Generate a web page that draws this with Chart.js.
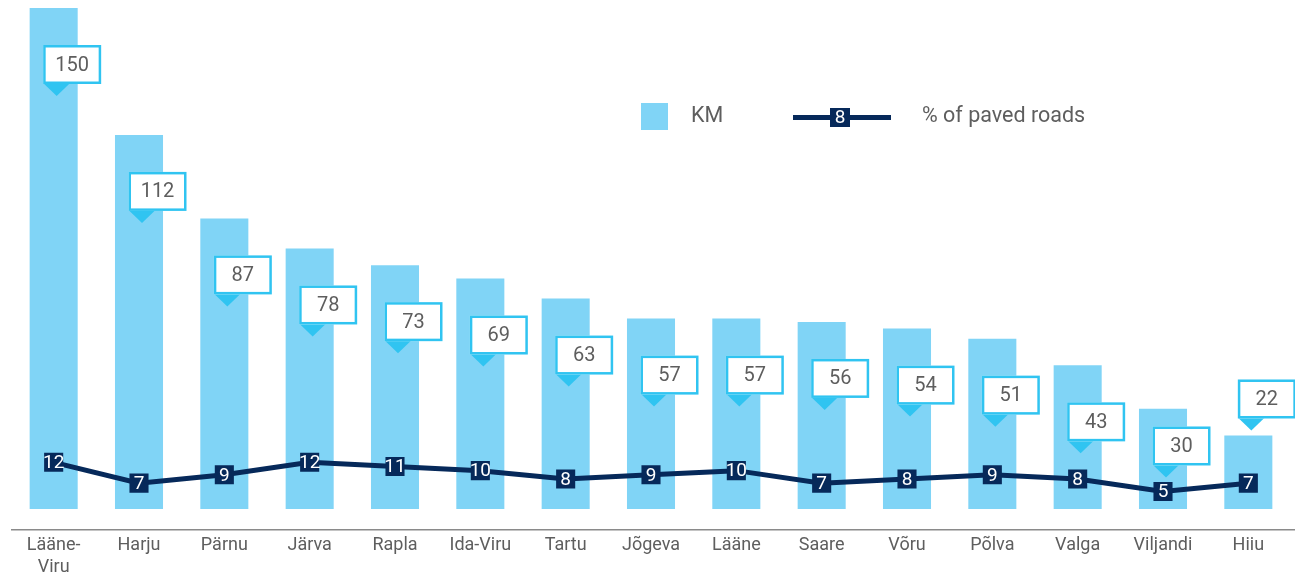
<!doctype html>
<html lang="et">
<head>
  <meta charset="utf-8" />
  <title>Roads by county</title>
  <script src="https://cdn.jsdelivr.net/npm/chart.js"></script>
  <style>
    html, body { margin: 0; padding: 0; background: #ffffff; }
    .wrap { position: relative; width: 1295px; height: 578px; }
  </style>
</head>
<body>
  <div class="wrap"><canvas id="roads"></canvas></div>
  <script>
    // county names and the two series
    const counties = ['Lääne-Viru', 'Harju', 'Pärnu', 'Järva', 'Rapla', 'Ida-Viru', 'Tartu', 'Jõgeva',
      'Lääne', 'Saare', 'Võru', 'Põlva', 'Valga', 'Viljandi', 'Hiiu'];
    const tickLabels = [['Lääne-', 'Viru'], 'Harju', 'Pärnu', 'Järva', 'Rapla', 'Ida-Viru', 'Tartu', 'Jõgeva',
      'Lääne', 'Saare', 'Võru', 'Põlva', 'Valga', 'Viljandi', 'Hiiu'];
    const kmValues = [150, 112, 87, 78, 73, 69, 63, 57, 57, 56, 54, 51, 43, 30, 22];
    const pavedShare = [12, 7, 9, 12, 11, 10, 8, 9, 10, 7, 8, 9, 8, 5, 7];

    const barColor = '#80d4f6';
    const lineColor = '#06295a';
    const calloutColor = '#30c4f1';
    const textGray = '#5e5e5e';
    const fontFamily = 'Roboto, "Open Sans", sans-serif';

    function drawCallout(ctx, tipX, tipY, text) {
      const boxW = 58, boxH = 39, triH = 12, triW = 27;
      const left = tipX - triW / 2;
      const bottom = tipY - triH;
      const top = bottom - boxH;
      ctx.save();
      ctx.fillStyle = calloutColor;
      ctx.beginPath();
      ctx.moveTo(left, bottom - 1);
      ctx.lineTo(left + triW, bottom - 1);
      ctx.lineTo(tipX, tipY);
      ctx.closePath();
      ctx.fill();
      ctx.fillStyle = '#ffffff';
      ctx.fillRect(left, top, boxW, boxH);
      ctx.strokeStyle = calloutColor;
      ctx.lineWidth = 2.5;
      ctx.strokeRect(left + 1.25, top + 1.25, boxW - 2.5, boxH - 2.5);
      ctx.fillStyle = textGray;
      ctx.font = `20px ${fontFamily}`;
      ctx.textAlign = 'center';
      ctx.textBaseline = 'middle';
      ctx.fillText(text, left + boxW / 2, top + boxH / 2 + 1);
      ctx.restore();
    }

    function drawMarkerText(ctx, x, y, text) {
      ctx.save();
      ctx.fillStyle = '#ffffff';
      ctx.font = `19px ${fontFamily}`;
      ctx.textAlign = 'center';
      ctx.textBaseline = 'middle';
      ctx.fillText(text, x, y + 1);
      ctx.restore();
    }

    const overlayPlugin = {
      id: 'overlay',
      beforeDatasetsDraw(chart) {
        // baseline rule, running out to the right edge of the canvas
        const ctx = chart.ctx;
        const y = chart.scales.x.top + 0.75;
        ctx.save();
        ctx.strokeStyle = '#8a8a8a';
        ctx.lineWidth = 1.5;
        ctx.beginPath();
        ctx.moveTo(chart.chartArea.left, y);
        ctx.lineTo(chart.width, y);
        ctx.stroke();
        ctx.restore();
      },
      afterDatasetsDraw(chart) {
        const ctx = chart.ctx;
        const bars = chart.getDatasetMeta(1).data;
        const points = chart.getDatasetMeta(0).data;

        // value callouts: inside the bar near its top, above it when the bar is too short
        bars.forEach((bar, i) => {
          const tipX = bar.x + 3;
          let tipY = Math.min(bar.y + 88, points[i].y - 14);
          if (tipY - 51 < bar.y) tipY = bar.y - 5;
          drawCallout(ctx, tipX, tipY, String(kmValues[i]));
        });

        // numbers inside the square line markers
        points.forEach((pt, i) => drawMarkerText(ctx, pt.x, pt.y, String(pavedShare[i])));

        // legend
        ctx.save();
        ctx.fillStyle = barColor;
        ctx.fillRect(641, 103, 27, 27);
        ctx.strokeStyle = lineColor;
        ctx.lineWidth = 5;
        ctx.beginPath();
        ctx.moveTo(793, 117.5);
        ctx.lineTo(891, 117.5);
        ctx.stroke();
        ctx.fillStyle = lineColor;
        ctx.fillRect(830, 108, 20, 19);
        ctx.restore();
        drawMarkerText(ctx, 840, 117.5, '8');
        ctx.save();
        ctx.fillStyle = textGray;
        ctx.font = `21.5px ${fontFamily}`;
        ctx.textBaseline = 'middle';
        ctx.fillText(chart.data.datasets[1].label, 691, 117);
        ctx.fillText(chart.data.datasets[0].label, 922, 117);
        ctx.restore();
      },
    };

    new Chart(document.getElementById('roads'), {
      data: {
        labels: tickLabels,
        datasets: [
          {
            type: 'line',
            label: '% of paved roads',
            data: pavedShare,
            yAxisID: 'yShare',
            borderColor: lineColor,
            backgroundColor: lineColor,
            borderWidth: 5,
            tension: 0,
            pointStyle: 'rect',
            pointRadius: 13.5,
            pointHoverRadius: 13.5,
            pointBorderWidth: 0,
            order: 0,
          },
          {
            type: 'bar',
            label: 'KM',
            data: kmValues,
            yAxisID: 'y',
            backgroundColor: barColor,
            categoryPercentage: 1,
            barPercentage: 0.563,
            order: 1,
          },
        ],
      },
      options: {
        responsive: true,
        maintainAspectRatio: false,
        animation: false,
        layout: { autoPadding: false, padding: { top: 8, left: 11, right: 4, bottom: 0 } },
        plugins: { legend: { display: false }, tooltip: { enabled: false } },
        scales: {
          x: {
            grid: { display: false, drawTicks: false },
            border: { display: false },
            ticks: {
              color: textGray,
              font: { family: fontFamily, size: 18 },
              padding: 6,
              maxRotation: 0,
              autoSkip: false,
            },
            afterFit: (scale) => { scale.height = 49; },
          },
          y: { display: false, min: -6, max: 150 },
          yShare: { display: false, min: -4, max: 121 },
        },
      },
      plugins: [overlayPlugin],
    });
  </script>
</body>
</html>
